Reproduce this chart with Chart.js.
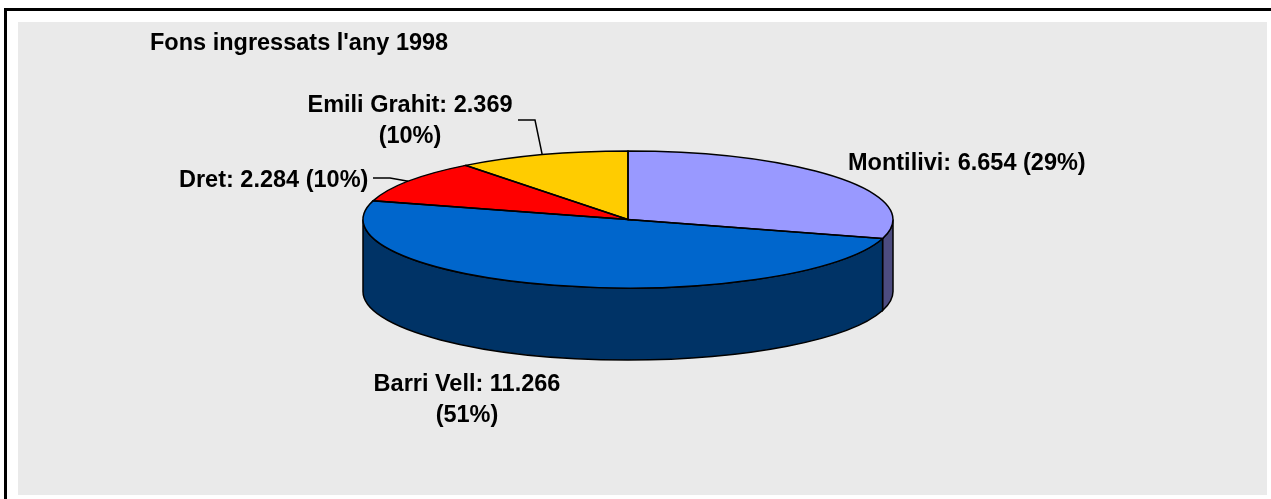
<!DOCTYPE html>
<html>
<head>
<meta charset="utf-8">
<title>Fons ingressats l'any 1998</title>
<script src="https://cdn.jsdelivr.net/npm/chart.js@4.4.0/dist/chart.umd.min.js"></script>
<style>
    html, body { margin: 0; padding: 0; background: #fff; width: 1271px; height: 499px; overflow: hidden; position: relative; }
    #frame { position: absolute; left: 4px; top: 8px; right: 0; bottom: 0; border-left: 3px solid #000; border-top: 3px solid #000; }
    #plot { position: absolute; left: 18px; top: 22px; width: 1249px; height: 473px; background: #eaeaea; }
    #wrap { position: absolute; left: 0; top: 0; width: 1271px; height: 499px; }
</style>
</head>
<body>
<div id="frame"></div>
<div id="plot"></div>
<div id="wrap"><canvas id="pie-chart" width="1271" height="499"></canvas></div>
<script>
    "use strict";

    // Data
    var title = "Fons ingressats l'any 1998";
    var categories = ["Montilivi", "Barri Vell", "Dret", "Emili Grahit"];
    var values = [6654, 11266, 2284, 2369];
    var percentLabels = ["29%", "51%", "10%", "10%"];

    // Colours
    var topColors = ["#9999ff", "#0066cc", "#ff0000", "#ffcc00"];
    var sideColors = ["#4c4c80", "#003366", "#800000", "#806600"];

    // 3D look: ellipse of the top face and depth of the wall
    var pieBox = { cx: 628, cy: 219.5, rx: 265, ry: 68.5, depth: 72 };

    // Label placement (x, first baseline, alignment, wrap, leader start)
    var labelLayout = [
        { x: 848, y: 170, align: "left", wrap: false },
        { x: 467, y: 391, align: "center", wrap: true },
        { x: 179, y: 187, align: "left", wrap: false, leader: [373, 178] },
        { x: 410, y: 112, align: "center", wrap: true, leader: [518, 120] }
    ];

    var font = "bold 23.5px 'Liberation Sans', Arial, sans-serif";

    function fmt(v) {
        return String(v).replace(/\B(?=(\d{3})+(?!\d))/g, ".");
    }

    var pie3d = {
        id: "pie3d",
        beforeDatasetsDraw: function (chart) {
            var ctx = chart.ctx;
            var arcs = chart.getDatasetMeta(0).data;
            var b = pieBox;

            // side walls, only the front half (0..PI) is visible
            arcs.forEach(function (arc, i) {
                var a0 = Math.max(arc.startAngle, 0);
                var a1 = Math.min(arc.endAngle, Math.PI);
                if (a1 <= a0) return;
                ctx.beginPath();
                ctx.ellipse(b.cx, b.cy, b.rx, b.ry, 0, a0, a1, false);
                ctx.lineTo(b.cx + b.rx * Math.cos(a1), b.cy + b.ry * Math.sin(a1) + b.depth);
                ctx.ellipse(b.cx, b.cy + b.depth, b.rx, b.ry, 0, a1, a0, true);
                ctx.closePath();
                ctx.fillStyle = sideColors[i];
                ctx.fill();
                ctx.strokeStyle = "#000";
                ctx.lineWidth = 1.5;
                ctx.stroke();
            });

            // squash the library's circle into the top ellipse
            var a = arcs[0];
            ctx.save();
            ctx.translate(b.cx, b.cy);
            ctx.scale(b.rx / a.outerRadius, b.ry / a.outerRadius);
            ctx.translate(-a.x, -a.y);
        },
        afterDatasetsDraw: function (chart) {
            var ctx = chart.ctx;
            var arcs = chart.getDatasetMeta(0).data;
            var b = pieBox;
            ctx.restore();

            // slice outlines on the top face
            ctx.strokeStyle = "#000";
            ctx.lineWidth = 1.5;
            arcs.forEach(function (arc) {
                ctx.beginPath();
                ctx.moveTo(b.cx, b.cy);
                ctx.ellipse(b.cx, b.cy, b.rx, b.ry, 0, arc.startAngle, arc.endAngle, false);
                ctx.closePath();
                ctx.stroke();
            });
        },
        afterDraw: function (chart) {
            var ctx = chart.ctx;
            var arcs = chart.getDatasetMeta(0).data;
            var b = pieBox;
            ctx.save();
            ctx.font = font;
            ctx.fillStyle = "#000";
            ctx.textBaseline = "alphabetic";

            // title
            ctx.textAlign = "left";
            ctx.fillText(title, 150, 50);

            // data labels
            arcs.forEach(function (arc, i) {
                var L = labelLayout[i];
                var main = categories[i] + ": " + fmt(values[i]);
                var pct = "(" + percentLabels[i] + ")";
                ctx.textAlign = L.align;
                if (L.wrap) {
                    ctx.fillText(main, L.x, L.y);
                    ctx.fillText(pct, L.x, L.y + 31);
                } else {
                    ctx.fillText(main + " " + pct, L.x, L.y);
                }

                // leader line to the middle of the slice rim
                if (L.leader) {
                    var mid = (arc.startAngle + arc.endAngle) / 2;
                    var ex = b.cx + b.rx * Math.cos(mid);
                    var ey = b.cy + b.ry * Math.sin(mid);
                    ctx.beginPath();
                    ctx.moveTo(L.leader[0], L.leader[1]);
                    ctx.lineTo(L.leader[0] + 17, L.leader[1]);
                    ctx.lineTo(ex, ey);
                    ctx.strokeStyle = "#000";
                    ctx.lineWidth = 1.5;
                    ctx.stroke();
                }
            });
            ctx.restore();
        }
    };

    var ctx = document.getElementById("pie-chart").getContext("2d");
    var myChart = new Chart(ctx, {
        type: "pie",
        data: {
            labels: categories,
            datasets: [{
                data: values,
                backgroundColor: topColors,
                borderWidth: 0
            }]
        },
        options: {
            responsive: false,
            animation: false,
            rotation: 0,
            events: [],
            plugins: {
                legend: { display: false },
                tooltip: { enabled: false },
                title: { display: false }
            }
        },
        plugins: [pie3d]
    });
</script>
</body>
</html>
